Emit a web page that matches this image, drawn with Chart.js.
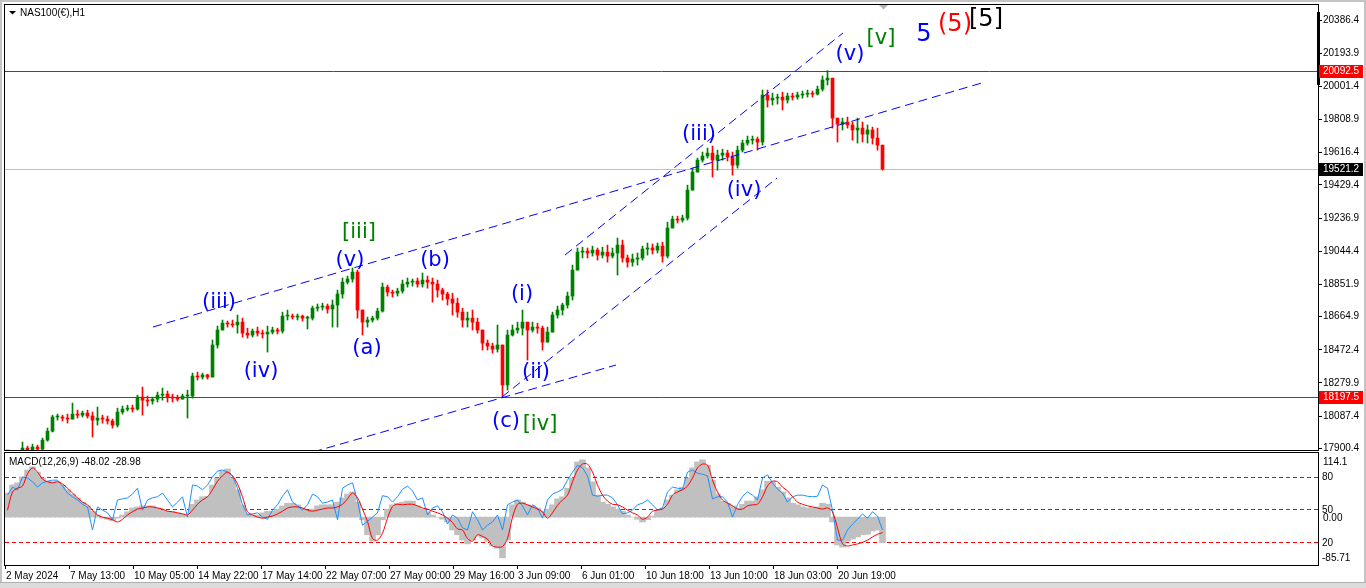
<!DOCTYPE html>
<html>
<head>
<meta charset="utf-8">
<script src="https://cdn.jsdelivr.net/npm/chart.js@4.4.1/dist/chart.umd.min.js"></script>
<style>
html,body{margin:0;padding:0;background:#ffffff;overflow:hidden;}
#wrap{position:absolute;left:0;top:0;width:1366px;height:588px;background:#ffffff;}
#c1{position:absolute;left:0;top:0;}
#c2{position:absolute;left:0;top:452px;}
.edge{position:absolute;background:#c4c4c4;}
</style>
</head>
<body>
<div id="wrap">
<canvas id="c1" width="1366" height="452"></canvas>
<canvas id="c2" width="1366" height="136"></canvas>
<div class="edge" style="left:0;top:0;width:1366px;height:2px;"></div>
<div class="edge" style="left:0;top:0;width:2px;height:588px;"></div>
<div class="edge" style="left:1364px;top:0;width:2px;height:588px;"></div>
<div class="edge" style="left:0;top:582px;width:1366px;height:6px;background:#dcdcdc;border-top:1px solid #b0b0b0;box-sizing:border-box;"></div>
</div>
<script>
// ---------------- DATA (one sample = 5 hourly bars) ----------------
const symbolTitle = 'NAS100(€),H1';
const macdTitle = 'MACD(12,26,9) -48.02 -28.98';

const priceHigh = [17861,17855,17873,17937,17913,17925,17919,17960,18018,18093,
18099,18093,18099,18163,18122,18117,18122,18111,18140,18093,
18088,18070,18134,18146,18151,18151,18209,18256,18204,18198,
18227,18250,18233,18215,18209,18215,18238,18337,18343,18337,
18331,18529,18610,18645,18639,18645,18674,18656,18598,18593,
18604,18587,18610,18604,18598,18691,18703,18680,18680,18674,
18668,18726,18738,18743,18738,18761,18819,18889,18900,18947,
18935,18662,18662,18668,18714,18860,18848,18819,18830,18877,
18889,18883,18889,18918,18900,18889,18877,18830,18807,18801,
18772,18714,18691,18703,18656,18558,18529,18511,18616,18500,
18587,18616,18633,18703,18616,18633,18627,18610,18604,18691,
18726,18743,18807,18964,19063,19068,19063,19074,19063,19068,
19080,19063,19121,19109,19022,19028,19034,19074,19092,19086,
19092,19097,19213,19248,19248,19254,19428,19527,19585,19620,
19643,19655,19631,19637,19631,19620,19655,19689,19713,19713,
19707,19980,19980,19962,19956,19968,19962,19962,19968,19974,
19980,19974,20003,20061,20092.5,20014,19817,19817,19823,19794,
19817,19794,19777,19765,19759,19660];

const priceLow = [17774,17786,17803,17879,17879,17879,17879,17890,17942,17995,
18064,18059,18047,18076,18076,18082,18076,17966,18035,18047,
18041,18018,18024,18099,18117,18111,18122,18093,18146,18157,
18169,18180,18169,18169,18175,18186,18076,18192,18297,18302,
18302,18314,18482,18587,18604,18604,18569,18546,18540,18546,
18552,18540,18459,18564,18564,18569,18645,18651,18645,18639,
18593,18645,18697,18703,18685,18604,18604,18772,18854,18865,
18656,18558,18604,18633,18645,18691,18784,18778,18784,18801,
18836,18842,18836,18836,18830,18749,18778,18761,18732,18674,
18662,18604,18604,18587,18569,18471,18471,18453,18459,18197.5,
18238,18552,18569,18558,18413,18575,18569,18471,18523,18587,
18656,18674,18714,18761,18935,19005,19005,19016,18993,19005,
18981,19005,18906,18981,18952,18958,18964,18993,19022,19028,
19034,18981,19005,19202,19208,19213,19225,19411,19504,19562,
19585,19475,19515,19573,19568,19486,19527,19620,19660,19666,
19631,19660,19881,19893,19898,19864,19904,19922,19927,19933,
19939,19939,19951,19974,20009,19759,19678,19748,19759,19689,
19672,19678,19672,19666,19631,19515];

const priceClose = [17821,17832,17861,17902,17890,17908,17896,17948,18000,18082,
18082,18076,18070,18099,18093,18105,18088,18064,18076,18070,
18059,18035,18111,18128,18134,18128,18198,18180,18175,18186,
18209,18215,18198,18192,18186,18204,18204,18320,18314,18326,
18314,18500,18587,18627,18622,18616,18633,18569,18558,18581,
18569,18564,18575,18587,18581,18668,18668,18662,18668,18656,
18656,18714,18720,18726,18709,18732,18796,18865,18883,18923,
18703,18633,18645,18656,18697,18836,18807,18801,18813,18854,
18865,18871,18854,18877,18865,18854,18819,18796,18767,18743,
18691,18645,18656,18633,18587,18511,18494,18476,18500,18268,
18558,18587,18598,18633,18587,18604,18598,18517,18575,18674,
18703,18732,18784,18935,19039,19045,19034,19051,19022,19039,
19016,19034,19080,19005,18981,18999,19005,19057,19063,19051,
19074,19016,19179,19231,19225,19237,19399,19504,19573,19597,
19614,19573,19602,19614,19591,19544,19631,19672,19689,19695,
19678,19951,19922,19933,19939,19922,19945,19939,19951,19956,
19962,19956,19985,20038,20049,19817,19782,19794,19777,19748,
19759,19724,19748,19701,19660,19521.2];

const macdHist = [45,60,64,75,88,94,84,73,67,66,
66,60,51,43,36,28,21,11,4,-2,
-4,-7,-2,4,10,17,19,21,21,21,
17,13,11,10,8,6,2,24,32,38,
39,60,73,86,90,73,51,23,6,4,
4,8,11,11,15,21,26,26,23,17,
13,15,21,23,23,23,28,36,43,47,
28,-5,-33,-45,-33,-5,15,23,26,28,
30,30,21,15,10,4,0,-4,-9,-24,
-33,-43,-50,-43,-35,-39,-45,-54,-58,-76,
-43,23,32,28,23,21,17,11,15,23,
34,38,54,73,103,107,92,66,41,28,
24,19,15,11,4,0,-4,-9,-5,2,
10,17,32,41,51,56,73,92,103,107,
97,69,43,30,26,21,17,24,30,30,
38,51,67,66,56,47,36,26,23,19,
17,17,19,26,24,-9,-52,-56,-45,-41,
-37,-33,-32,-26,-24,-48.02];

const macdSignal = [13,47,54,58,81,92,84,71,66,64,
66,62,54,45,36,28,23,13,4,0,
-2,-5,-9,-4,4,10,15,17,19,19,
17,15,11,10,8,6,4,13,24,32,
38,51,67,77,84,77,62,38,10,4,
0,-2,0,2,6,11,17,19,19,17,
13,11,13,15,17,17,19,24,34,45,
36,15,-8,-40,-43,-30,-2,20,24,23,
24,24,21,17,15,11,8,4,-2,-10,
-22,-24,-40,-45,-33,-36,-41,-54,-56,-55,
-40,0,24,26,23,19,15,10,-2,8,
22,32,41,66,88,99,99,84,60,41,
30,24,23,19,13,8,4,-4,0,11,
13,15,24,41,47,51,58,73,92,99,
97,69,47,32,26,21,15,15,21,23,
24,38,58,67,66,56,49,38,28,24,
21,19,17,15,17,10,-20,-50,-54,-52,
-50,-47,-43,-37,-32,-28.98];

const macdBlue = [41,56,51,75,73,66,56,64,67,69,
69,58,45,38,32,24,19,-24,19,13,
8,-5,32,34,36,43,54,13,32,36,
38,45,32,19,28,38,0,60,58,51,
60,75,86,88,84,77,54,23,4,6,
8,0,-4,13,23,39,51,28,21,13,
23,43,38,26,28,32,-5,54,60,64,
30,-15,-8,0,8,40,38,28,38,52,
58,49,32,36,4,17,21,10,-13,4,
-2,-20,-24,10,-5,-24,-15,-9,4,-24,
23,28,32,21,4,23,17,-2,32,43,
47,52,69,84,97,92,77,41,39,41,
41,36,23,6,8,13,23,26,32,23,
13,17,47,56,54,52,84,88,82,80,
77,34,38,38,28,0,23,39,47,41,
32,73,79,64,52,45,28,38,41,41,
39,38,39,60,54,13,-43,-43,-24,-13,
-4,6,-2,10,2,-24];

// axis labels
const priceTicks = [20386.4,20193.9,20001.4,19808.9,19616.4,19429.4,19236.9,19044.4,18851.9,18664.9,18472.4,18279.9,18087.4,17900.4];
const timeTickBars = [0,64,128,192,256,320,384,448,512,576,640,704,768,832];
const timeTickLabels = ['2 May 2024','7 May 13:00','10 May 05:00','14 May 22:00','17 May 14:00','22 May 07:00','27 May 00:00','29 May 16:00','3 Jun 09:00','6 Jun 01:00','10 Jun 18:00','13 Jun 10:00','18 Jun 03:00','20 Jun 19:00'];

// horizontal price levels
const levelPrices = [20092.5, 18197.5];
const lastPrice = 19521.2;

// MACD window levels (position value, printed label)
const macdLevelValues = [75.4, 14.6, -47.1];
const macdLevelLabels = ['80', '50', '20'];
const macdScaleTop = '114.1';
const macdScaleBottom = '-85.71';
const macdZeroLabel = '0.00';

// Elliott wave annotations (bar index, price)
const waveText  = ['(iii)','(iv)','[iii]','(v)','(a)','(b)','(i)','(ii)','(c)','[iv]','(iii)','(iv)','(v)','[v]','5','(5)','[5]'];
const waveBar   = [214,256,354,345,362,430,517,531,501,535,694,739,845,876,919,950,981];
const wavePrice = [18743.9,18343.4,19150.2,18987.7,18476.9,18987.7,18790.3,18337.6,18053.2,18035.8,19719,19393.9,20183.3,20276.1,20299.4,20360.3,20389.3];
const waveDegree = ['minute','minute','minor','minute','minute','minute','minute','minute','minute','minor','minute','minute','minute','minor','intermediate','primary','cycle'];

// dashed trend lines: [barStart, priceStart, barEnd, priceEnd]
const trendStartBar   = [148, 560, 497, 308];
const trendStartPrice = [18604.6, 19022.5, 18198.3, 17879.1];
const trendEndBar     = [980, 838, 772, 611];
const trendEndPrice   = [20026.6, 20311.0, 19469.4, 18384.0];

// ---------------- STYLE / LAYOUT ----------------
const BUCKET = 5;              // hourly bars per sample
const TOTAL_BARS = 1313;       // bars visible across the plot width
const PRICE_MIN = 17884.9, PRICE_MAX = 20473.5;
const MACD_MIN = -89.4, MACD_MAX = 119.7;
const UP = '#008000', DOWN = '#ff0000';
const FONT = '"Liberation Sans", Arial, sans-serif';
const WAVE_FONT = '"DejaVu Sans", Verdana, sans-serif';
const degreeStyle = {
  minute: {color:'#0000ff', size:21},
  minor: {color:'#008000', size:21},
  intermediate: {color:'#0000ff', size:24},
  primary: {color:'#ff0000', size:24},
  cycle: {color:'#000000', size:24}
};

Chart.defaults.font.family = FONT;
Chart.defaults.font.size = 10;
Chart.defaults.color = '#000000';

const sampleX = priceClose.map((_, i) => i * BUCKET + BUCKET / 2);
const sampleOpen = priceClose.map((c, i) => i === 0 ? c : priceClose[i - 1]);
const sampleColor = priceClose.map((c, i) => c >= sampleOpen[i] ? UP : DOWN);
const bodyData = priceClose.map((c, i) => ({x: sampleX[i], y: [sampleOpen[i], c]}));
const wickData = priceClose.map((c, i) => ({x: sampleX[i], y: [Math.min(priceLow[i], sampleOpen[i], c), Math.max(priceHigh[i], sampleOpen[i], c)]}));

const trendDatasets = trendStartBar.map((b, k) => ({
  type: 'line',
  data: [{x: b, y: trendStartPrice[k]}, {x: trendEndBar[k], y: trendEndPrice[k]}],
  borderColor: '#0000ff', borderWidth: 1, borderDash: [9, 5],
  pointRadius: 0, fill: false, order: 0
}));

function hLine(ctx, a, py, color) {
  const y = Math.round(py) + 0.5;
  ctx.strokeStyle = color;
  ctx.beginPath(); ctx.moveTo(a.left, y); ctx.lineTo(a.right, y); ctx.stroke();
}
function priceBox(ctx, a, py, bg, text) {
  const y = Math.round(py);
  ctx.fillStyle = bg;
  ctx.fillRect(a.right + 1, y - 6, 44, 13);
  ctx.fillStyle = '#ffffff';
  ctx.font = '10px ' + FONT;
  ctx.textAlign = 'left'; ctx.textBaseline = 'middle';
  ctx.fillText(text, a.right + 5, y + 0.5);
}

const mainDecor = {
  id: 'mainDecor',
  beforeDatasetsDraw(chart) {
    const {ctx, chartArea: a, scales: {y}} = chart;
    ctx.save();
    ctx.lineWidth = 1;
    hLine(ctx, a, y.getPixelForValue(lastPrice), '#c0c0c0');
    levelPrices.forEach(v => hLine(ctx, a, y.getPixelForValue(v), '#ff0000'));
    ctx.restore();
  },
  afterDatasetsDraw(chart) {
    const {ctx, scales: {x, y}} = chart;
    ctx.save();
    ctx.textAlign = 'center'; ctx.textBaseline = 'middle';
    waveText.forEach((t, i) => {
      const st = degreeStyle[waveDegree[i]];
      ctx.font = st.size + 'px ' + WAVE_FONT;
      ctx.fillStyle = st.color;
      ctx.fillText(t, x.getPixelForValue(waveBar[i]), y.getPixelForValue(wavePrice[i]));
    });
    ctx.restore();
  },
  afterDraw(chart) {
    const {ctx, chartArea: a, scales: {y}} = chart;
    ctx.save();
    // frame
    ctx.strokeStyle = '#000000'; ctx.lineWidth = 1;
    ctx.strokeRect(a.left - 0.5, a.top - 0.5, a.right - a.left + 1, a.bottom - a.top);
    // title
    ctx.fillStyle = '#000000';
    ctx.beginPath(); ctx.moveTo(9, 11); ctx.lineTo(16, 11); ctx.lineTo(12.5, 14.5); ctx.closePath(); ctx.fill();
    ctx.font = '10px ' + FONT; ctx.textAlign = 'left'; ctx.textBaseline = 'middle';
    ctx.fillText(symbolTitle, 20, 13.5);
    // chart shift marker
    ctx.fillStyle = '#b4b4b4';
    ctx.beginPath(); ctx.moveTo(879, 5); ctx.lineTo(888, 5); ctx.lineTo(883.5, 9.5); ctx.closePath(); ctx.fill();
    // scale marker
    ctx.fillStyle = '#000000';
    ctx.fillRect(a.right - 1, 12, 3, 73);
    // price boxes
    priceBox(ctx, a, y.getPixelForValue(levelPrices[0]), '#ff0000', levelPrices[0].toFixed(1));
    priceBox(ctx, a, y.getPixelForValue(levelPrices[1]), '#ff0000', levelPrices[1].toFixed(1));
    priceBox(ctx, a, y.getPixelForValue(lastPrice), '#000000', lastPrice.toFixed(1));
    ctx.restore();
  }
};

new Chart(document.getElementById('c1'), {
  type: 'bar',
  data: {
    datasets: [
      {type: 'bar', data: wickData, backgroundColor: sampleColor, barThickness: 1, grouped: false, minBarLength: 1, order: 2},
      {type: 'bar', data: bodyData, backgroundColor: sampleColor, barThickness: 3, grouped: false, minBarLength: 1, order: 1},
      ...trendDatasets
    ]
  },
  options: {
    responsive: false, animation: false, events: [],
    layout: {padding: {left: 5, top: 5, right: 0, bottom: 1}},
    plugins: {legend: {display: false}, tooltip: {enabled: false}},
    scales: {
      x: {type: 'linear', min: 0, max: TOTAL_BARS, offset: false, display: false, grid: {offset: false}},
      y: {
        type: 'linear', position: 'right', min: PRICE_MIN, max: PRICE_MAX,
        afterFit(s) { s.width = 48; s.paddingTop = 0; s.paddingBottom = 0; },
        afterBuildTicks(s) { s.ticks = priceTicks.map(v => ({value: v})); },
        ticks: {callback: v => Number(v).toFixed(1), autoSkip: false, padding: 1, font: {size: 10, family: FONT}, color: '#000'},
        grid: {drawOnChartArea: false, drawTicks: true, tickLength: 4, color: '#000'},
        border: {display: false}
      }
    }
  },
  plugins: [mainDecor]
});

const macdDecor = {
  id: 'macdDecor',
  beforeDatasetsDraw(chart) {
    const {ctx, chartArea: a, scales: {y}} = chart;
    ctx.save();
    ctx.strokeStyle = '#ff0000'; ctx.lineWidth = 1; ctx.setLineDash([4, 3]);
    macdLevelValues.forEach(v => {
      const py = Math.round(y.getPixelForValue(v)) + 0.5;
      ctx.beginPath(); ctx.moveTo(a.left, py); ctx.lineTo(a.right, py); ctx.stroke();
    });
    ctx.restore();
  },
  afterDraw(chart) {
    const {ctx, chartArea: a, scales: {y}} = chart;
    ctx.save();
    ctx.strokeStyle = '#000000'; ctx.lineWidth = 1;
    ctx.strokeRect(a.left - 0.5, a.top - 0.5, a.right - a.left + 1, a.bottom - a.top + 1);
    ctx.fillStyle = '#000000';
    ctx.font = '10px ' + FONT; ctx.textAlign = 'left'; ctx.textBaseline = 'middle';
    ctx.fillText(macdTitle, 9, a.top + 9.5);
    const lx = a.right + 4;
    ctx.fillText(macdScaleTop, lx + 1, a.top + 9);
    macdLevelValues.forEach((v, i) => ctx.fillText(macdLevelLabels[i], lx, y.getPixelForValue(v) + 0.5));
    ctx.fillText(macdZeroLabel, lx + 1, y.getPixelForValue(0) + 1.5);
    ctx.fillText(macdScaleBottom, lx, a.bottom - 6.5);
    ctx.restore();
  }
};

new Chart(document.getElementById('c2'), {
  type: 'bar',
  data: {
    datasets: [
      {type: 'bar', data: macdHist.map((v, i) => ({x: sampleX[i], y: v})), backgroundColor: '#c0c0c0', barThickness: 6, grouped: false, order: 3},
      {type: 'line', data: macdBlue.map((v, i) => ({x: sampleX[i], y: v})), borderColor: '#1e90ff', borderWidth: 1, pointRadius: 0, fill: false, order: 2},
      {type: 'line', data: macdSignal.map((v, i) => ({x: sampleX[i], y: v})), borderColor: '#ff0000', borderWidth: 1, pointRadius: 0, fill: false, tension: 0.3, order: 1}
    ]
  },
  options: {
    responsive: false, animation: false, events: [],
    layout: {padding: {left: 5, top: 1, right: 0, bottom: 0}},
    plugins: {legend: {display: false}, tooltip: {enabled: false}},
    scales: {
      x: {
        type: 'linear', min: 0, max: TOTAL_BARS, offset: false, position: 'bottom',
        afterFit(s) { s.height = 23; },
        afterBuildTicks(s) { s.ticks = timeTickBars.map(v => ({value: v})); },
        ticks: {callback: (v, i) => timeTickLabels[i], align: 'start', autoSkip: false, maxRotation: 0, minRotation: 0, padding: 1, labelOffset: 1, font: {size: 10, family: FONT}, color: '#000'},
        grid: {offset: false, drawOnChartArea: false, drawTicks: true, tickLength: 4, color: '#000'},
        border: {display: false}
      },
      y: {
        type: 'linear', position: 'right', min: MACD_MIN, max: MACD_MAX,
        afterFit(s) { s.width = 48; },
        ticks: {display: false}, grid: {display: false}, border: {display: false}
      }
    }
  },
  plugins: [macdDecor]
});
</script>
</body>
</html>
